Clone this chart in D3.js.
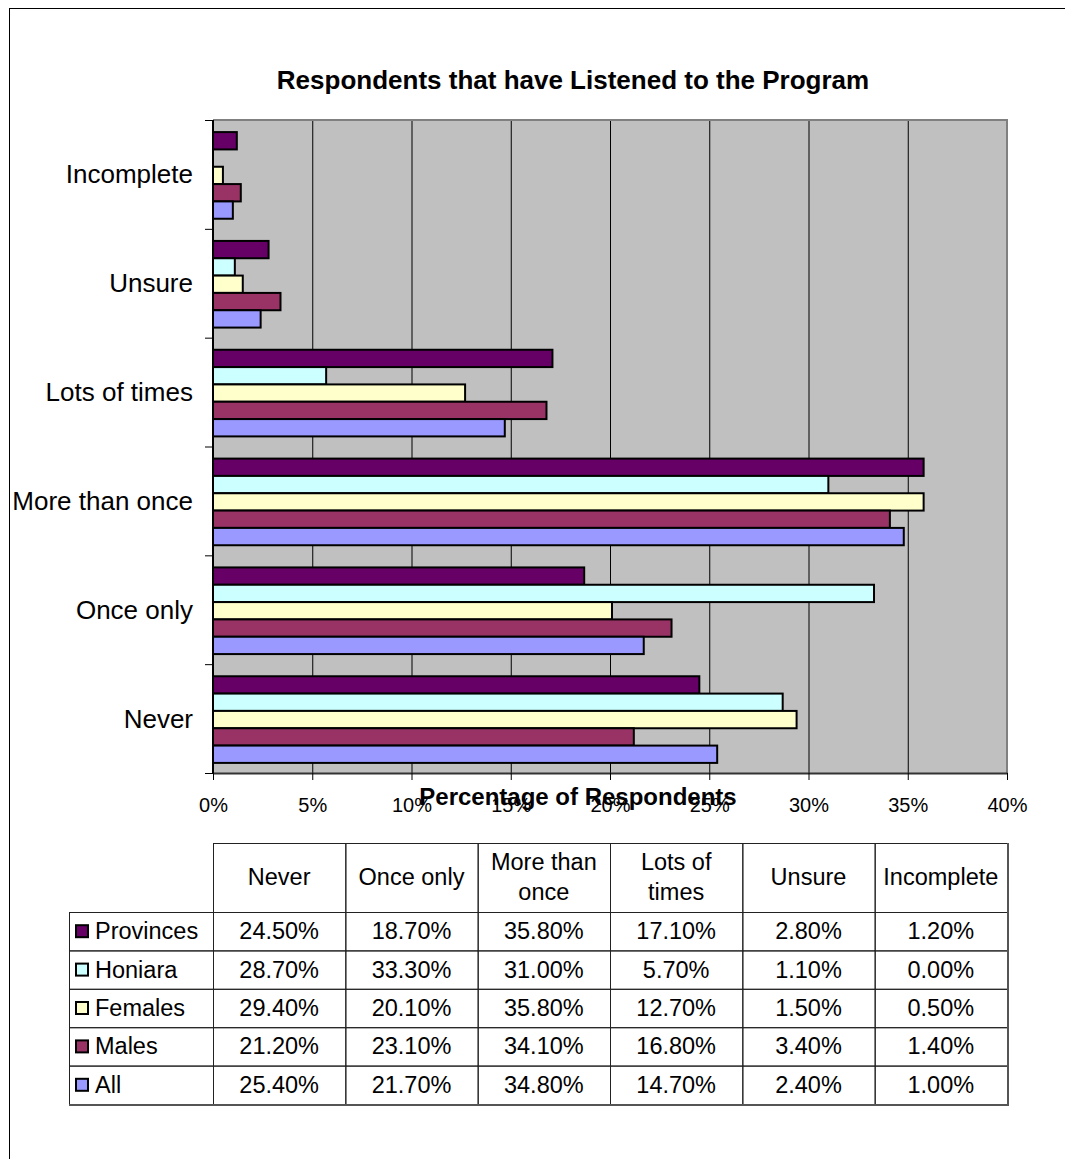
<!DOCTYPE html>
<html>
<head>
<meta charset="utf-8">
<script src="https://cdn.jsdelivr.net/npm/d3@7"></script>
<style>
  html, body { margin: 0; padding: 0; background: #fff; }
  svg { display: block; font-family: "Liberation Sans", Arial, sans-serif; }
</style>
</head>
<body>
<svg id="chart" width="1065" height="1159"></svg>
<script>
// Categories as listed in the data table (left to right)
const categories = ["Never", "Once only", "More than once", "Lots of times", "Unsure", "Incomplete"];
// Series names, in the order bars are stacked within each group (top to bottom)
const seriesNames = ["Provinces", "Honiara", "Females", "Males", "All"];
const seriesColors = ["#660066", "#CCFFFF", "#FFFFCC", "#993366", "#9999FF"];
// Percentages per series, one value per category
const provinces = [24.5, 18.7, 35.8, 17.1, 2.8, 1.2];
const honiara   = [28.7, 33.3, 31.0, 5.7, 1.1, 0.0];
const females   = [29.4, 20.1, 35.8, 12.7, 1.5, 0.5];
const males     = [21.2, 23.1, 34.1, 16.8, 3.4, 1.4];
const all       = [25.4, 21.7, 34.8, 14.7, 2.4, 1.0];
const xTicks = [0, 5, 10, 15, 20, 25, 30, 35, 40];

const seriesValues = [provinces, honiara, females, males, all];
const series = seriesNames.map((name, i) => ({ name, color: seriesColors[i], values: seriesValues[i] }));

const svg = d3.select("#chart");

// Frame around the whole figure
svg.append("rect")
  .attr("x", 9.5).attr("y", 8.5).attr("width", 1200).attr("height", 1200)
  .attr("fill", "none").attr("stroke", "#000").attr("stroke-width", 1);

// Title
svg.append("text")
  .attr("x", 573).attr("y", 89)
  .attr("text-anchor", "middle")
  .attr("font-size", 26).attr("font-weight", "bold")
  .text("Respondents that have Listened to the Program");

// Plot area
const plot = { left: 213, right: 1007, top: 120, bottom: 773 };

const x = d3.scaleLinear().domain([0, 40]).range([plot.left, plot.right]);
// Categories run bottom-to-top in the chart (Never at the bottom)
const y = d3.scaleBand().domain(categories.slice().reverse()).range([plot.top, plot.bottom]).padding(0);
const yInner = d3.scaleBand().domain(seriesNames).range([0, y.bandwidth()]).paddingOuter(0.64).paddingInner(0);

const g = svg.append("g");

g.append("rect")
  .attr("x", plot.left).attr("y", plot.top)
  .attr("width", plot.right - plot.left).attr("height", plot.bottom - plot.top)
  .attr("fill", "#C0C0C0");

// Vertical gridlines
g.selectAll("line.grid")
  .data(xTicks.filter(t => t > 0 && t < 40))
  .join("line")
  .attr("class", "grid")
  .attr("x1", d => x(d) + 0.5).attr("x2", d => x(d) + 0.5)
  .attr("y1", plot.top).attr("y2", plot.bottom)
  .attr("stroke", "#000").attr("stroke-width", 1);

// Plot border (top and right)
g.append("path")
  .attr("d", `M${plot.left},${plot.top}H${plot.right}V${plot.bottom}`)
  .attr("fill", "none").attr("stroke", "#808080").attr("stroke-width", 2);

// Bars
const groups = g.selectAll("g.cat")
  .data(categories.map((c, ci) => ({ cat: c, ci })))
  .join("g")
  .attr("class", "cat")
  .attr("transform", d => `translate(0,${y(d.cat)})`);

groups.selectAll("rect")
  .data(d => series.map(s => ({ name: s.name, color: s.color, value: s.values[d.ci] })))
  .join("rect")
  .attr("x", x(0))
  .attr("y", d => yInner(d.name) + 1)
  .attr("width", d => x(d.value) - x(0))
  .attr("height", yInner.bandwidth())
  .attr("fill", d => d.color)
  .attr("stroke", "#000").attr("stroke-width", 2);

// Value axis (bottom)
const xAxis = d3.axisBottom(x)
  .tickValues(xTicks)
  .tickFormat(d => d + "%")
  .tickSizeInner(7).tickSizeOuter(0).tickPadding(18);
const xg = svg.append("g")
  .attr("transform", `translate(0,${plot.bottom})`)
  .call(xAxis);
xg.select(".domain").attr("stroke", "#333").attr("stroke-width", 2);
xg.selectAll(".tick line").attr("stroke", "#000");
xg.selectAll(".tick text")
  .attr("font-family", "Liberation Sans, Arial, sans-serif")
  .attr("font-size", 20).attr("fill", "#000");

// Category axis (left), ticks at band boundaries
const yg = svg.append("g");
yg.append("line")
  .attr("x1", plot.left).attr("x2", plot.left)
  .attr("y1", plot.top).attr("y2", plot.bottom)
  .attr("stroke", "#000").attr("stroke-width", 2);
const boundaries = y.domain().map(c => y(c)).concat([plot.bottom]);
yg.selectAll("line.tick")
  .data(boundaries)
  .join("line")
  .attr("class", "tick")
  .attr("x1", plot.left - 8).attr("x2", plot.left)
  .attr("y1", d => d + 0.5).attr("y2", d => d + 0.5)
  .attr("stroke", "#000").attr("stroke-width", 1);
yg.selectAll("text")
  .data(y.domain())
  .join("text")
  .attr("x", 193)
  .attr("y", d => y(d) + y.bandwidth() / 2 + 9)
  .attr("text-anchor", "end")
  .attr("font-size", 26)
  .text(d => d);

// Axis title
svg.append("text")
  .attr("x", 578).attr("y", 805)
  .attr("text-anchor", "middle")
  .attr("font-size", 24).attr("font-weight", "bold")
  .text("Percentage of Respondents");

// Data table beneath the chart
const table = { left: 69, colStart: plot.left, right: plot.right, top: 843, headBottom: 912, rowH: 38.4 };
const fs = 23.5;
const col = d3.scaleBand().domain(categories).range([table.colStart, table.right]);
const rowY = d3.scaleBand().domain(seriesNames)
  .range([table.headBottom, table.headBottom + table.rowH * seriesNames.length]);
const tableBottom = rowY.range()[1];
const tg = svg.append("g");

// Header cells
tg.selectAll("rect.head")
  .data(categories)
  .join("rect")
  .attr("class", "head")
  .attr("x", d => col(d) + 0.5).attr("y", table.top + 0.5)
  .attr("width", col.bandwidth()).attr("height", table.headBottom - table.top)
  .attr("fill", "none").attr("stroke", "#222").attr("stroke-width", 1);

// Header labels: split long names onto two lines
const headerLines = { "More than once": ["More than", "once"], "Lots of times": ["Lots of", "times"] };
tg.selectAll("text.head")
  .data(categories)
  .join("text")
  .attr("class", "head")
  .attr("text-anchor", "middle")
  .attr("font-size", fs)
  .each(function (d) {
    const lines = headerLines[d] || [d];
    const cx = col(d) + col.bandwidth() / 2;
    const el = d3.select(this);
    if (lines.length === 1) {
      el.append("tspan").attr("x", cx).attr("y", 885).text(lines[0]);
    } else {
      el.append("tspan").attr("x", cx).attr("y", 870).text(lines[0]);
      el.append("tspan").attr("x", cx).attr("y", 900).text(lines[1]);
    }
  });

// Body rows
const rows = tg.selectAll("g.row")
  .data(series)
  .join("g")
  .attr("class", "row")
  .attr("transform", d => `translate(0,${rowY(d.name)})`);

rows.append("rect")
  .attr("x", table.left + 0.5).attr("y", 0.5)
  .attr("width", table.colStart - table.left).attr("height", rowY.bandwidth())
  .attr("fill", "none").attr("stroke", "#222").attr("stroke-width", 1);

rows.selectAll("rect.cell")
  .data(d => d.values.map((v, i) => ({ v, cat: categories[i] })))
  .join("rect")
  .attr("class", "cell")
  .attr("x", d => col(d.cat) + 0.5).attr("y", 0.5)
  .attr("width", col.bandwidth()).attr("height", rowY.bandwidth())
  .attr("fill", "none").attr("stroke", "#222").attr("stroke-width", 1);

rows.selectAll("text.val")
  .data(d => d.values.map((v, i) => ({ v, cat: categories[i] })))
  .join("text")
  .attr("class", "val")
  .attr("x", d => col(d.cat) + col.bandwidth() / 2)
  .attr("y", rowY.bandwidth() / 2 + 8)
  .attr("text-anchor", "middle")
  .attr("font-size", fs)
  .text(d => d.v.toFixed(2) + "%");

// Legend keys in the first column
rows.append("rect")
  .attr("x", 76).attr("y", rowY.bandwidth() / 2 - 6)
  .attr("width", 12).attr("height", 12)
  .attr("fill", d => d.color)
  .attr("stroke", "#000").attr("stroke-width", 2);
rows.append("text")
  .attr("x", 95)
  .attr("y", rowY.bandwidth() / 2 + 8)
  .attr("font-size", fs)
  .text(d => d.name);

// Heavier right and bottom edge of the table
tg.append("path")
  .attr("d", `M${table.right + 1},${table.top}V${tableBottom + 1}H${table.left}`)
  .attr("fill", "none").attr("stroke", "#555").attr("stroke-width", 2);
</script>
</body>
</html>
